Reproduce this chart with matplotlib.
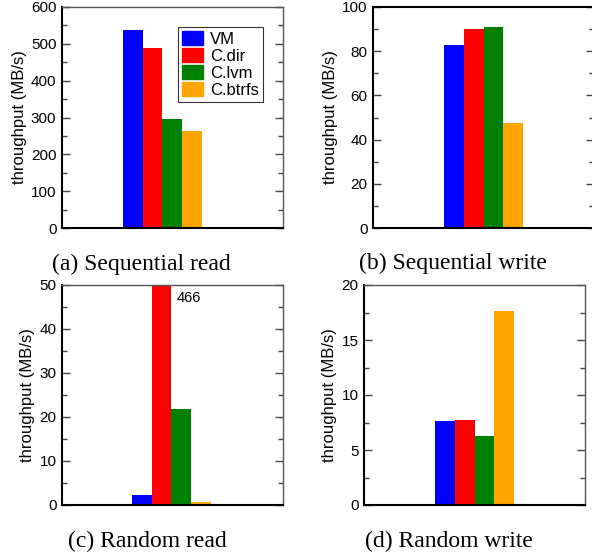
import numpy as np
import matplotlib.pyplot as plt
from matplotlib.ticker import MultipleLocator

systems = ['VM', 'C.dir', 'C.lvm', 'C.btrfs']
colors = ['#0000ff', '#ff0000', '#008000', '#ffa500']

seq_read = [537, 490, 296, 262]
seq_write = [83.0, 90.2, 91.1, 47.7]
rand_read = [2.2, 466, 21.9, 0.7]
rand_write = [7.64, 7.73, 6.24, 17.67]

captions = ['(a) Sequential read', '(b) Sequential write',
            '(c) Random read', '(d) Random write']

plt.rcParams['font.family'] = ['Liberation Sans', 'DejaVu Sans']
plt.rcParams['font.size'] = 11

W, H = 592, 556
fig = plt.figure(figsize=(W / 100, H / 100), dpi=100)


def make_axes(left, top, right, bottom):
    return fig.add_axes([left / W, 1 - bottom / H, (right - left) / W, (bottom - top) / H])


def draw_panel(ax, values, ymax, major, minor, offset, top_black=False):
    x = np.arange(len(values))
    ax.bar(x, values, width=1.0, color=colors, edgecolor='none', label=systems)
    ax.set_xlim(-0.5 - offset, -0.5 - offset + 11.2)
    ax.set_ylim(0, ymax)
    ax.yaxis.set_major_locator(MultipleLocator(major))
    ax.yaxis.set_minor_locator(MultipleLocator(minor))
    ax.set_xticks([])
    ax.tick_params(axis='y', which='both', direction='in', left=True, right=True,
                   color='#444444', labelsize=11, pad=4)
    ax.tick_params(axis='y', which='major', length=6, width=1)
    ax.tick_params(axis='y', which='minor', length=3.5, width=1)
    ax.set_ylabel('throughput (MB/s)', fontsize=12, labelpad=3)
    ax.spines['left'].set_linewidth(1.5)
    ax.spines['bottom'].set_linewidth(1.5)
    for s in ['top', 'right']:
        ax.spines[s].set_color('black' if (top_black and s == 'top') else '#555555')
        ax.spines[s].set_linewidth(1.5 if (top_black and s == 'top') else 1.0)


ax_a = make_axes(62, 7, 283, 228)
draw_panel(ax_a, seq_read, 600, 100, 50, 3.08)
handles = [plt.Rectangle((0, 0), 1, 1, color=c) for c in colors]
leg = ax_a.legend(handles, systems, loc='upper right', bbox_to_anchor=(0.91, 0.91),
                  fontsize=12, frameon=True, fancybox=False, handlelength=1.3,
                  handleheight=0.9, handletextpad=0.4, labelspacing=0.08,
                  borderpad=0.25, borderaxespad=0)
leg.get_frame().set_edgecolor('black')
leg.get_frame().set_linewidth(0.8)

ax_b = make_axes(373, 7, 594, 228)
draw_panel(ax_b, seq_write, 100, 20, 10, 3.6, top_black=True)

ax_c = make_axes(62, 285, 283, 505)
draw_panel(ax_c, rand_read, 50, 10, 5, 3.54)
ax_c.text(1.75, 47.0, str(rand_read[1]), fontsize=10.5, ha='left', va='center')

ax_d = make_axes(364, 285, 585, 505)
draw_panel(ax_d, rand_write, 20, 5, 2.5, 3.6)

cap_pos = [(141, 270), (453, 269), (147, 547), (449, 547)]
for (cx, cy), cap in zip(cap_pos, captions):
    fig.text(cx / W, 1 - cy / H, cap, family='Liberation Serif', fontsize=17,
             ha='center', va='baseline')

fig.savefig('out.png', dpi=100)
